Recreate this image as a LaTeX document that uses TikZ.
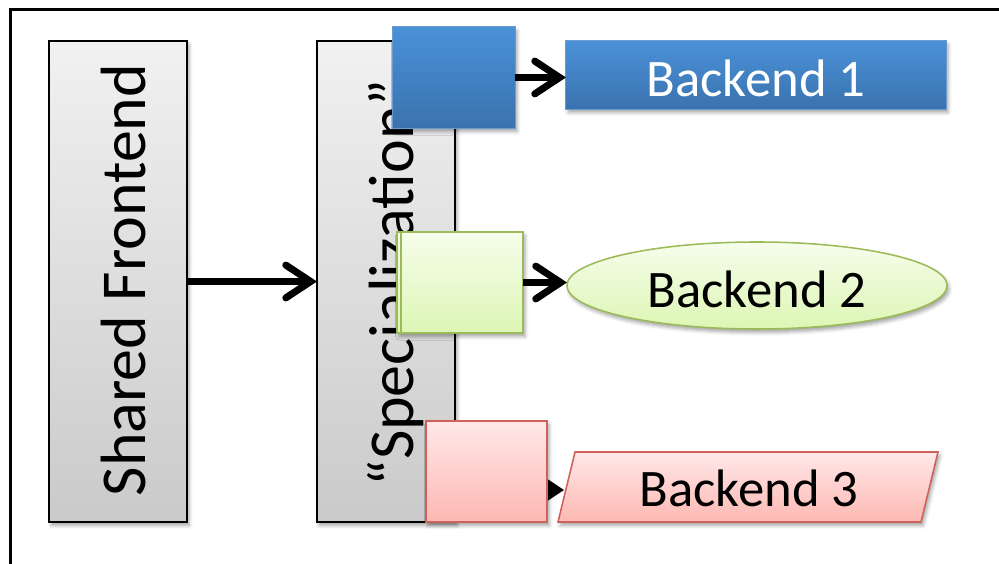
\documentclass[tikz,border=0pt]{standalone}
\usepackage{fontspec}
\setmainfont{Carlito}
\usetikzlibrary{arrows.meta,shapes.geometric,shadows.blur}

\definecolor{grayTop}{HTML}{F1F1F1}
\definecolor{grayBot}{HTML}{CACACA}
\definecolor{blueTop}{HTML}{4A91D8}
\definecolor{blueBot}{HTML}{3A72AE}
\definecolor{blueLine}{HTML}{6A9AD0}
\definecolor{greenTop}{HTML}{F6FDEC}
\definecolor{greenBot}{HTML}{DDF6B4}
\definecolor{greenLine}{HTML}{9BBB59}
\definecolor{redTop}{HTML}{FFE8E8}
\definecolor{redBot}{HTML}{FDB8B3}
\definecolor{redLine}{HTML}{D0605A}

\tikzset{
  softshadow/.style={blur shadow={shadow xshift=1.5pt, shadow yshift=-2.5pt,
      shadow blur radius=2.5pt, shadow opacity=35}},
  stage/.style={draw=black, line width=1.1pt, top color=grayTop, bottom color=grayBot,
      inner sep=0pt, outer sep=0pt, softshadow},
  stagetext/.style={rotate=90, anchor=base, font=\fontsize{45.5}{50}\selectfont},
  bluebox/.style={draw=blueLine, line width=0.7pt, top color=blueTop, bottom color=blueBot,
      inner sep=0pt, outer sep=0pt, softshadow},
  greenbox/.style={draw=greenLine, line width=1.1pt, top color=greenTop, bottom color=greenBot,
      inner sep=0pt, outer sep=0pt, softshadow},
  redbox/.style={draw=redLine, line width=1.1pt, top color=redTop, bottom color=redBot,
      inner sep=0pt, outer sep=0pt, softshadow},
  backendtext/.style={font=\fontsize{37.5}{42}\selectfont, text height=31pt, text depth=0pt},
  conn/.style={line width=5pt, -{Straight Barb[length=0.62cm, width=0.82cm, line cap=round]}},
}

\begin{document}
\begin{tikzpicture}[x=0.025cm, y=-0.025cm]
\useasboundingbox (0,0) rectangle (999,564);
\clip (0,0) rectangle (999,564);

% outer frame (runs off the right and bottom edges)
\draw[line width=2.8pt] (10.5,9.5) rectangle (1030,600);

% the two stages
\node[stage, minimum width=3.45cm, minimum height=12.025cm] (shared) at (118,281.5) {};
\node[stagetext] (sharedlbl) at (145,280) {Shared Frontend};
\node[stage, minimum width=3.45cm, minimum height=12.025cm] (spec) at (386,281.5) {};
\node[stagetext] (speclbl) at (413,283) {“Specialization”};

\draw[conn] (shared.east) -- (spec.west);

% arrows behind the specialised blocks
\coordinate (b3in) at (564,490);
\draw[conn] (505,490) -- (b3in);

% specialised blocks
\node[bluebox, minimum width=3.05cm, minimum height=2.525cm] (sblue) at (454,77.5) {};
\node[greenbox, minimum width=3.15cm, minimum height=2.525cm] (sgreen) at (460,282.5) {};
\draw[greenLine, line width=0.8pt] ([xshift=0.1cm]sgreen.north west) -- ([xshift=0.1cm]sgreen.south west);
\node[redbox, minimum width=3.025cm, minimum height=2.525cm] (sred) at (486.5,471.5) {};

% back ends
\node[bluebox, minimum width=9.5cm, minimum height=1.7cm, text=white, backendtext]
  (b1) at (756,75) {Backend 1};
\node[greenbox, ellipse, minimum width=9.5cm, minimum height=2.175cm, backendtext]
  (b2) at (757,285.5) {Backend 2};
\path[redbox, draw=redLine] (558,522) -- (575,452) -- (938,452) -- (921,522) -- cycle;
\node[backendtext] (b3) at (749,485) {Backend 3};

\draw[conn] (sblue.east) -- (sblue.east -| b1.west);
\draw[conn] (sgreen.east) -- (sgreen.east -| b2.west);
\end{tikzpicture}
\end{document}
